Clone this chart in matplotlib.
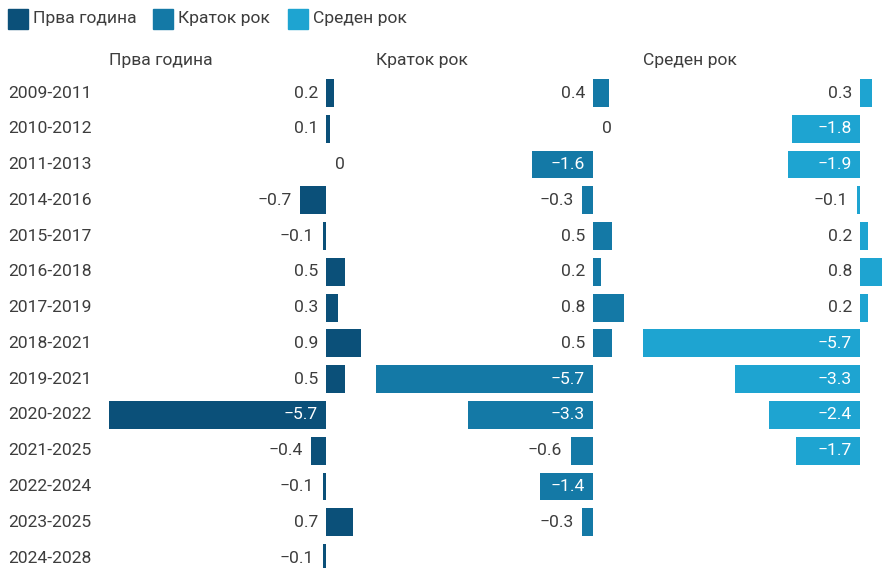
import matplotlib
matplotlib.use("Agg")
import matplotlib.pyplot as plt
from matplotlib.patches import Rectangle
from matplotlib.transforms import blended_transform_factory

plt.rcParams['font.family'] = ['Roboto', 'DejaVu Sans']

periods = ["2009-2011", "2010-2012", "2011-2013", "2014-2016", "2015-2017",
           "2016-2018", "2017-2019", "2018-2021", "2019-2021", "2020-2022",
           "2021-2025", "2022-2024", "2023-2025", "2024-2028"]

series_names = ["Прва година", "Краток рок", "Среден рок"]
first_year = [0.2, 0.1, 0, -0.7, -0.1, 0.5, 0.3, 0.9, 0.5, -5.7, -0.4, -0.1, 0.7, -0.1]
short_term = [0.4, 0, -1.6, -0.3, 0.5, 0.2, 0.8, 0.5, -5.7, -3.3, -0.6, -1.4, -0.3]
medium_term = [0.3, -1.8, -1.9, -0.1, 0.2, 0.8, 0.2, -5.7, -3.3, -2.4, -1.7]
series_values = [first_year, short_term, medium_term]
colors = ["#0b5079", "#1479a6", "#1ea4d1"]

W, H = 882, 568
fig = plt.figure(figsize=(W / 100, H / 100), dpi=100)

text_color = "#3d3d3d"
fs = 12.6

row0_px, row_step = 93.0, 35.77
top_px = row0_px - 0.5 * row_step
bot_px = row0_px + 13.5 * row_step
panel_left = [109, 376, 643]
panel_w = 267

axes = []
for i, (name, vals, col) in enumerate(zip(series_names, series_values, colors)):
    ax = fig.add_axes([panel_left[i] / W, 1 - bot_px / H, panel_w / W, (bot_px - top_px) / H])
    ax.set_xlim(-5.7, 1.3)
    ax.set_ylim(len(periods) - 0.5, -0.5)
    ax.axis("off")
    y = list(range(len(vals)))
    ax.barh(y, vals, height=0.78, color=col)
    for yi, v in zip(y, vals):
        lbl = f"{v:g}".replace("-", "\u2212")
        if v == 0:
            ax.annotate(lbl, (0, yi), xytext=(6, 0), textcoords="offset points",
                        ha="left", va="center", color=text_color, fontsize=fs)
        elif v <= -1.0:
            ax.annotate(lbl, (0, yi), xytext=(-6, 0), textcoords="offset points",
                        ha="right", va="center", color="white", fontsize=fs)
        else:
            ax.annotate(lbl, (min(v, 0), yi), xytext=(-6, 0), textcoords="offset points",
                        ha="right", va="center", color=text_color, fontsize=fs)
    fig.text(panel_left[i] / W, 1 - 60 / H, name, ha="left", va="center",
             color=text_color, fontsize=fs)
    axes.append(ax)

# Period labels along the left edge
tr = blended_transform_factory(fig.transFigure, axes[0].transData)
for yi, p in enumerate(periods):
    axes[0].text(8 / W, yi, p, transform=tr, ha="left", va="center",
                 color=text_color, fontsize=fs, clip_on=False)

# Legend row
leg_x = [8, 153, 288]
for x0, name, col in zip(leg_x, series_names, colors):
    fig.patches.append(Rectangle((x0 / W, 1 - 29 / H), 20 / W, 20 / H,
                                 transform=fig.transFigure, color=col))
    fig.text((x0 + 25) / W, 1 - 19 / H, name, ha="left", va="center",
             color=text_color, fontsize=fs)

fig.savefig("out.png", dpi=100)
